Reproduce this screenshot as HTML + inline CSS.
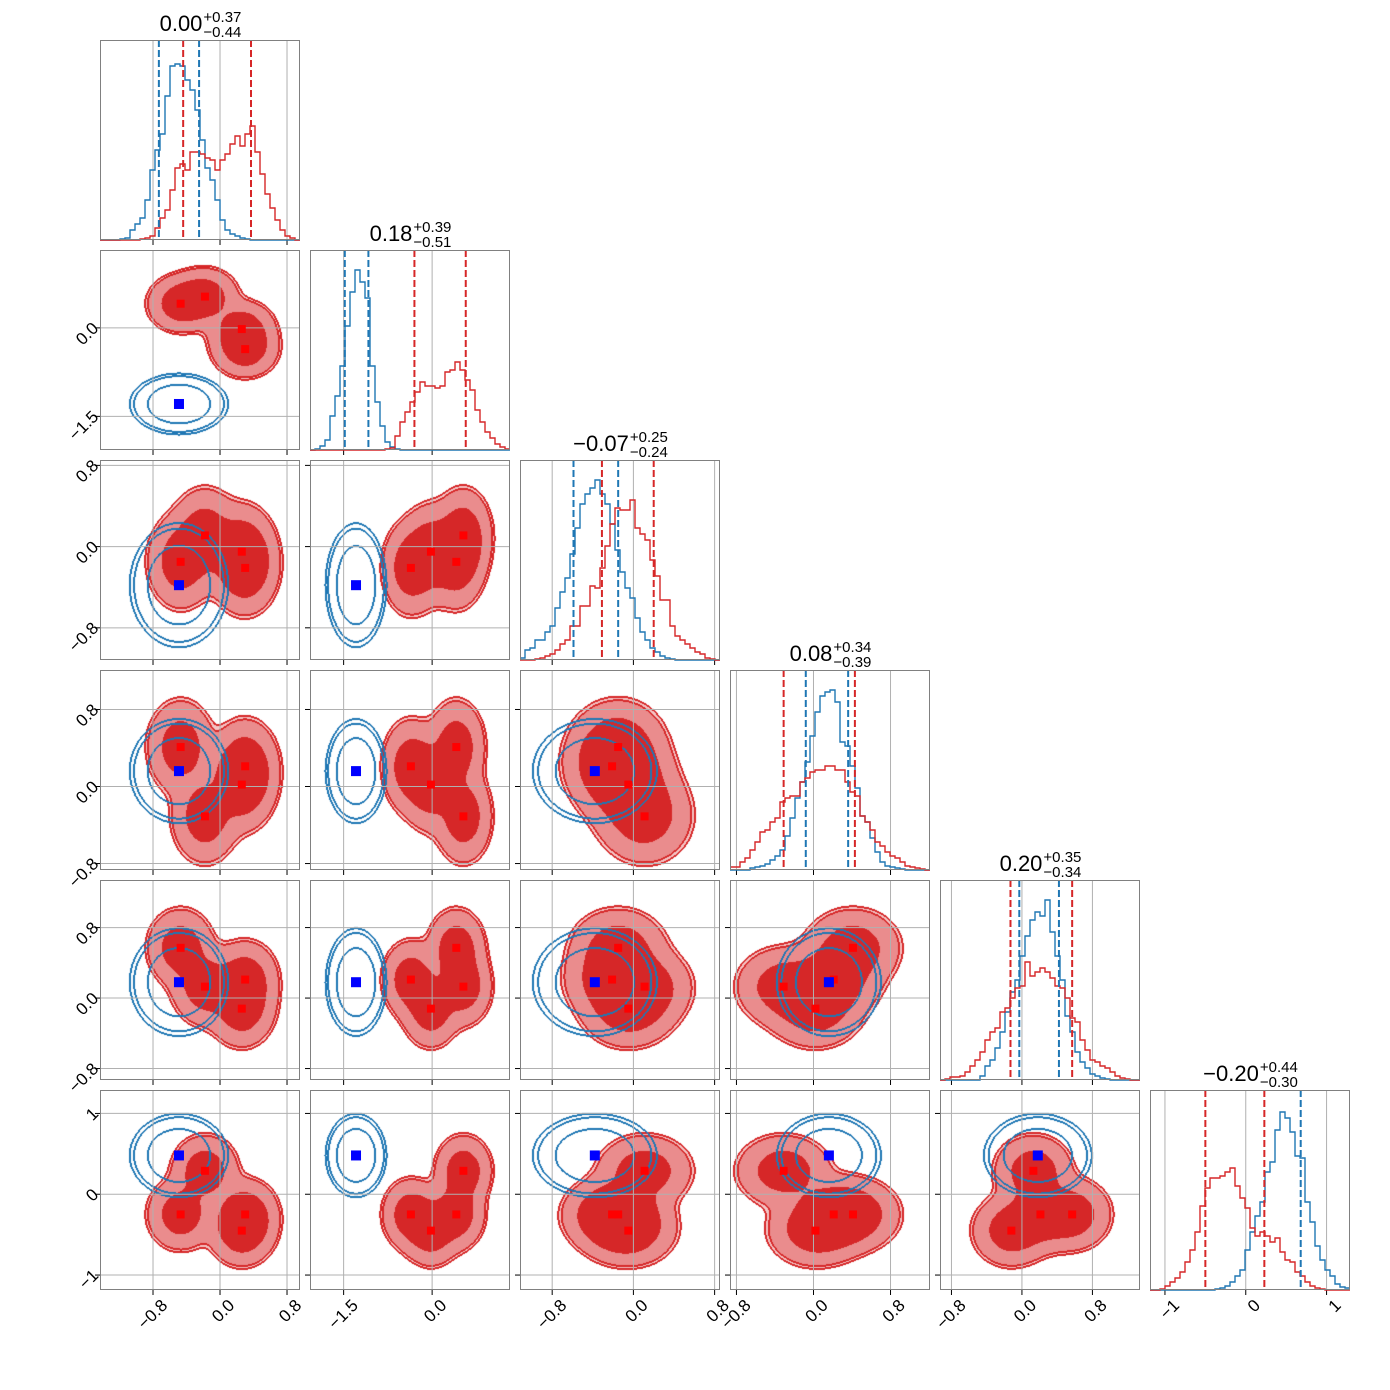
<!DOCTYPE html>
<html><head><meta charset="utf-8">
<style>
html,body{margin:0;padding:0;background:#fff;}
#wrap{position:relative;width:1390px;height:1390px;overflow:hidden;}
canvas,svg{position:absolute;left:0;top:0;}
text{font-family:"Liberation Sans","DejaVu Sans",sans-serif;}
</style></head>
<body>
<div id="wrap">
<canvas id="cv" width="1390" height="1390"></canvas>
<svg id="sv" width="1390" height="1390" xmlns="http://www.w3.org/2000/svg"></svg>
</div>
<script>
// ---- data ----
const paramLo = [-1.433, -2.07, -1.117, -0.867, -0.93, -1.185];
const paramHi = [0.955, 1.32, 0.853, 1.21, 1.34, 1.29];
const tickVals = [[-0.8,0,0.8],[-1.5,0],[-0.8,0,0.8],[-0.8,0,0.8],[-0.8,0,0.8],[-1,0,1]];
const tickLabels = [["\u22120.8","0.0","0.8"],["\u22121.5","0.0"],["\u22120.8","0.0","0.8"],["\u22120.8","0.0","0.8"],["\u22120.8","0.0","0.8"],["\u22121","0","1"]];
const redModeA = [-0.47, 0.41, -0.15, 0.41, 0.57, -0.25];
const redModeB = [-0.18, 0.53, 0.11, -0.31, 0.13, 0.29];
const redModeC = [0.26, -0.02, -0.05, 0.02, -0.12, -0.45];
const redModeD = [0.30, -0.36, -0.21, 0.21, 0.21, -0.25];
const redSd = [0.18, 0.22, 0.21, 0.22, 0.2, 0.2];
const blueMode = [-0.49, -1.29, -0.38, 0.16, 0.18, 0.48];
const blueSd = [0.25, 0.22, 0.26, 0.23, 0.26, 0.22];
const contourLevels = [0.063, 0.095, 0.5];
const blueLevels = [0.063, 0.1, 0.33];
const titleMain = ["0.00","0.18","\u22120.07","0.08","0.20","\u22120.20"];
const titlePlus = ["+0.37","+0.39","+0.25","+0.34","+0.35","+0.44"];
const titleMinus = ["\u22120.44","\u22120.51","\u22120.24","\u22120.39","\u22120.34","\u22120.30"];
const blueQuant = [[-0.73,-0.25],[-1.48,-1.08],[-0.59,-0.15],[-0.08,0.36],[-0.03,0.42],[0.68]];
const redQuant = [[-0.44,0.37],[-0.30,0.57],[-0.31,0.20],[-0.31,0.43],[-0.13,0.57],[-0.5,0.23]];
const histBlue0 = [0,0,0,0,0.005,0.01,0.05,0.08,0.11,0.2,0.35,0.45,0.53,0.72,0.87,0.88,0.87,0.8,0.75,0.65,0.5,0.36,0.3,0.2,0.1,0.05,0.03,0.02,0.01,0.005,0,0,0,0,0,0,0,0,0,0];
const histRed0 = [0,0,0,0,0,0,0,0,0.005,0.01,0.02,0.06,0.11,0.15,0.25,0.36,0.38,0.35,0.44,0.44,0.43,0.41,0.4,0.35,0.4,0.43,0.48,0.52,0.47,0.53,0.57,0.44,0.33,0.23,0.16,0.1,0.05,0.02,0.01,0];
const histBlue1 = [0,0.005,0.02,0.05,0.17,0.27,0.42,0.62,0.79,0.9,0.84,0.76,0.42,0.24,0.12,0.04,0.015,0.005,0,0,0,0,0,0,0,0,0,0,0,0,0,0,0,0,0,0,0,0,0,0];
const histRed1 = [0,0,0,0,0,0,0,0,0,0,0,0,0,0,0,0.005,0.01,0.07,0.14,0.19,0.24,0.29,0.34,0.32,0.32,0.31,0.32,0.39,0.4,0.44,0.4,0.35,0.3,0.2,0.14,0.09,0.06,0.03,0.015,0.005];
const histBlue2 = [0.01,0.05,0.06,0.1,0.1,0.14,0.17,0.26,0.34,0.41,0.53,0.66,0.78,0.83,0.86,0.9,0.83,0.78,0.68,0.55,0.44,0.36,0.31,0.21,0.14,0.1,0.06,0.04,0.02,0.01,0.005,0,0,0,0,0,0,0,0,0];
const histRed2 = [0,0,0,0.005,0.01,0.02,0.03,0.05,0.08,0.1,0.17,0.17,0.27,0.27,0.37,0.36,0.46,0.57,0.68,0.76,0.75,0.75,0.8,0.66,0.63,0.6,0.5,0.42,0.3,0.3,0.17,0.12,0.1,0.08,0.06,0.04,0.03,0.01,0.005,0];
const histBlue3 = [0,0,0,0,0.01,0.015,0.02,0.03,0.05,0.07,0.1,0.17,0.26,0.36,0.44,0.54,0.67,0.79,0.87,0.89,0.9,0.84,0.64,0.62,0.52,0.41,0.27,0.24,0.16,0.09,0.04,0.02,0.015,0.01,0.005,0,0,0,0,0];
const histRed3 = [0.015,0.015,0.04,0.06,0.1,0.14,0.19,0.2,0.24,0.26,0.34,0.36,0.37,0.37,0.44,0.46,0.49,0.5,0.5,0.52,0.52,0.5,0.5,0.44,0.39,0.37,0.27,0.24,0.2,0.14,0.12,0.09,0.07,0.06,0.04,0.02,0.015,0.01,0.005,0];
const histBlue4 = [0,0,0,0,0,0,0,0,0.02,0.07,0.1,0.16,0.24,0.34,0.44,0.5,0.62,0.72,0.8,0.84,0.82,0.9,0.74,0.62,0.5,0.32,0.24,0.14,0.09,0.06,0.03,0.02,0.01,0.005,0,0,0,0,0,0];
const histRed4 = [0,0.005,0.015,0.015,0.02,0.04,0.07,0.1,0.14,0.2,0.24,0.26,0.34,0.36,0.41,0.46,0.47,0.59,0.52,0.54,0.56,0.54,0.51,0.47,0.46,0.41,0.31,0.29,0.2,0.15,0.1,0.09,0.07,0.06,0.04,0.02,0.01,0.005,0,0];
const histBlue5 = [0,0,0,0,0,0,0,0,0,0,0,0,0,0.005,0.01,0.02,0.04,0.07,0.1,0.2,0.29,0.37,0.44,0.59,0.64,0.8,0.89,0.86,0.79,0.67,0.66,0.44,0.34,0.22,0.15,0.1,0.07,0.03,0.015,0.01];
const histRed5 = [0,0,0.005,0.02,0.04,0.06,0.09,0.14,0.2,0.29,0.42,0.51,0.56,0.56,0.57,0.59,0.61,0.52,0.46,0.41,0.31,0.27,0.29,0.27,0.24,0.26,0.19,0.15,0.14,0.09,0.07,0.04,0.02,0.01,0.005,0,0,0,0,0];

const histBlue = [histBlue0,histBlue1,histBlue2,histBlue3,histBlue4,histBlue5];
const histRed = [histRed0,histRed1,histRed2,histRed3,histRed4,histRed5];
const redModes = [redModeA,redModeB,redModeC,redModeD];

// ---- layout ----
const N = 6, L0 = 100, T0 = 40, S = 200, G = 10;
function pl(j){return L0 + j*(S+G);}
function pt(i){return T0 + i*(S+G);}
function xs(p,j,v){return pl(j) + (v-paramLo[p])/(paramHi[p]-paramLo[p])*S;}
function ys(p,i,v){return pt(i) + S - (v-paramLo[p])/(paramHi[p]-paramLo[p])*S;}
function hy(i,v){return pt(i) + S - v*S;}

// ---- contours on canvas ----
const cv = document.getElementById('cv');
const ctx = cv.getContext('2d');
ctx.fillStyle='#fff';ctx.fillRect(0,0,1390,1390);
const img = ctx.getImageData(0,0,1390,1390);
const D = img.data;
function setPx(x,y,c){const k=(y*1390+x)*4;D[k]=c[0];D[k+1]=c[1];D[k+2]=c[2];D[k+3]=255;}
const fillCols = [[255,255,255],[244,196,196],[234,140,141],[214,39,40]];
const redLine=[214,39,40], blueLine=[31,119,180];
function lev(d,L){let l=0;for(let q=0;q<L.length;q++) if(d>=L[q]) l=q+1;return l;}
for(let i=1;i<N;i++){for(let j=0;j<i;j++){
  const px=j, py=i, x0=pl(j), y0=pt(i);
  const R=new Uint8Array(S*S), B=new Uint8Array(S*S);
  for(let yy=0;yy<S;yy++){
    const vy = paramHi[py] - (yy+0.5)/S*(paramHi[py]-paramLo[py]);
    for(let xx=0;xx<S;xx++){
      const vx = paramLo[px] + (xx+0.5)/S*(paramHi[px]-paramLo[px]);
      let d=0;
      for(const m of redModes){const a=(vx-m[px])/redSd[px], b=(vy-m[py])/redSd[py]; d+=Math.exp(-0.5*(a*a+b*b));}
      R[yy*S+xx]=lev(d,contourLevels);
      const a=(vx-blueMode[px])/blueSd[px], b=(vy-blueMode[py])/blueSd[py];
      B[yy*S+xx]=lev(Math.exp(-0.5*(a*a+b*b)),blueLevels);
    }
  }
  for(let yy=0;yy<S;yy++)for(let xx=0;xx<S;xx++) setPx(x0+xx,y0+yy,fillCols[R[yy*S+xx]]);
  function edges(A,col){
    for(let yy=0;yy<S;yy++)for(let xx=0;xx<S;xx++){
      const v=A[yy*S+xx];
      if(xx<S-1 && A[yy*S+xx+1]!==v){setPx(x0+xx,y0+yy,col);setPx(x0+xx+1,y0+yy,col);}
      if(yy<S-1 && A[(yy+1)*S+xx]!==v){setPx(x0+xx,y0+yy,col);setPx(x0+xx,y0+yy+1,col);}
    }
  }
  edges(R,redLine); edges(B,blueLine);
}}
ctx.putImageData(img,0,0);

// ---- svg overlay ----
const NS='http://www.w3.org/2000/svg';
const sv=document.getElementById('sv');
function mk(tag,attrs,parent){const e=document.createElementNS(NS,tag);for(const k in attrs)e.setAttribute(k,attrs[k]);(parent||sv).appendChild(e);return e;}
for(let i=0;i<N;i++){for(let j=0;j<=i;j++){
  const g=mk('g',{});
  
  
  const x0=pl(j), y0=pt(i);
  for(const t of tickVals[j]){const x=xs(j,j,t);
    const ln=mk('line',{x1:x,x2:x,y1:y0,y2:y0+S,stroke:'#b0b0b0','stroke-width':1},g);
    
    
    const tk=mk('line',{x1:x,x2:x,y1:y0+S,y2:y0+S+5,stroke:'#000','stroke-width':1},g);
    
    
  }
  if(i!==j){for(const t of tickVals[i]){const y=ys(i,i,t);
    const ln=mk('line',{x1:x0,x2:x0+S,y1:y,y2:y,stroke:'#b0b0b0','stroke-width':1},g);
    
    
    const tk=mk('line',{x1:x0-5,x2:x0,y1:y,y2:y,stroke:'#000','stroke-width':1},g);
    
    
  }}
  if(i===j){
    const nb=histBlue[i].length;
    function stepPath(arr){let d='';for(let k=0;k<nb;k++){
      const xa=xs(i,i,paramLo[i]+k*(paramHi[i]-paramLo[i])/nb), xb=xs(i,i,paramLo[i]+(k+1)*(paramHi[i]-paramLo[i])/nb), y=hy(i,arr[k]);
      d+=(k===0?'M'+xa+','+y:'L'+xa+','+y)+'L'+xb+','+y;}return d;}
    const pb=mk('path',{d:stepPath(histBlue[i]),fill:'none',stroke:'#1f77b4','stroke-width':1.4},g);
    
    
    const pr=mk('path',{d:stepPath(histRed[i]),fill:'none',stroke:'#d62728','stroke-width':1.4},g);
    
    
    for(const q of blueQuant[i]){const x=xs(i,i,q);
      const l=mk('line',{x1:x,x2:x,y1:y0,y2:y0+S,stroke:'#1f77b4','stroke-width':2,'stroke-dasharray':'7,3'},g);
      
      }
    for(const q of redQuant[i]){const x=xs(i,i,q);
      const l=mk('line',{x1:x,x2:x,y1:y0,y2:y0+S,stroke:'#d62728','stroke-width':2,'stroke-dasharray':'7,3'},g);
      
      }
    const tg=mk('g',{},g);
    
    
    const tm=mk('text',{x:0,y:y0-9,'font-size':22,fill:'#000'},tg); tm.textContent=titleMain[i];
    const tp=mk('text',{x:0,y:y0-18,'font-size':15,fill:'#000'},tg); tp.textContent=titlePlus[i];
    const tn=mk('text',{x:0,y:y0-3,'font-size':15,fill:'#000'},tg); tn.textContent=titleMinus[i];
    const wm=tm.getComputedTextLength(), ws=Math.max(tp.getComputedTextLength(),tn.getComputedTextLength());
    const sx=x0+S/2-(wm+ws)/2;
    tm.setAttribute('x',sx); tp.setAttribute('x',sx+wm+1); tn.setAttribute('x',sx+wm+1);
  } else {
    for(const m of redModes){
      const r=mk('rect',{x:xs(j,j,m[j])-4,y:ys(i,i,m[i])-4,width:8,height:8,fill:'#ff0000'},g);
      
      
    }
    const b=mk('rect',{x:xs(j,j,blueMode[j])-5,y:ys(i,i,blueMode[i])-5,width:10,height:10,fill:'#0000ff'},g);
    
    
  }
  const fr=mk('rect',{x:x0+0.5,y:y0+0.5,width:S-1,height:S-1,fill:'none',stroke:'#808080','stroke-width':1},g);
  
  
}}
const by=pt(N-1)+S;
for(let j=0;j<N;j++){tickVals[j].forEach((t,k)=>{
  const x=xs(j,j,t)+7, y=by+8;
  const tx=mk('text',{x:x,y:y,'font-size':17,'text-anchor':'end',transform:'rotate(-45 '+x+' '+y+')',dy:'0.7em'});
  tx.textContent=tickLabels[j][k];
  
  
});}
for(let i=1;i<N;i++){tickVals[i].forEach((t,k)=>{
  const x=L0-9, y=ys(i,i,t)-7;
  const tx=mk('text',{x:x,y:y,'font-size':17,'text-anchor':'end',transform:'rotate(-45 '+x+' '+y+')',dy:'0.7em'});
  tx.textContent=tickLabels[i][k];
  
  
});}
</script>
</body></html>
